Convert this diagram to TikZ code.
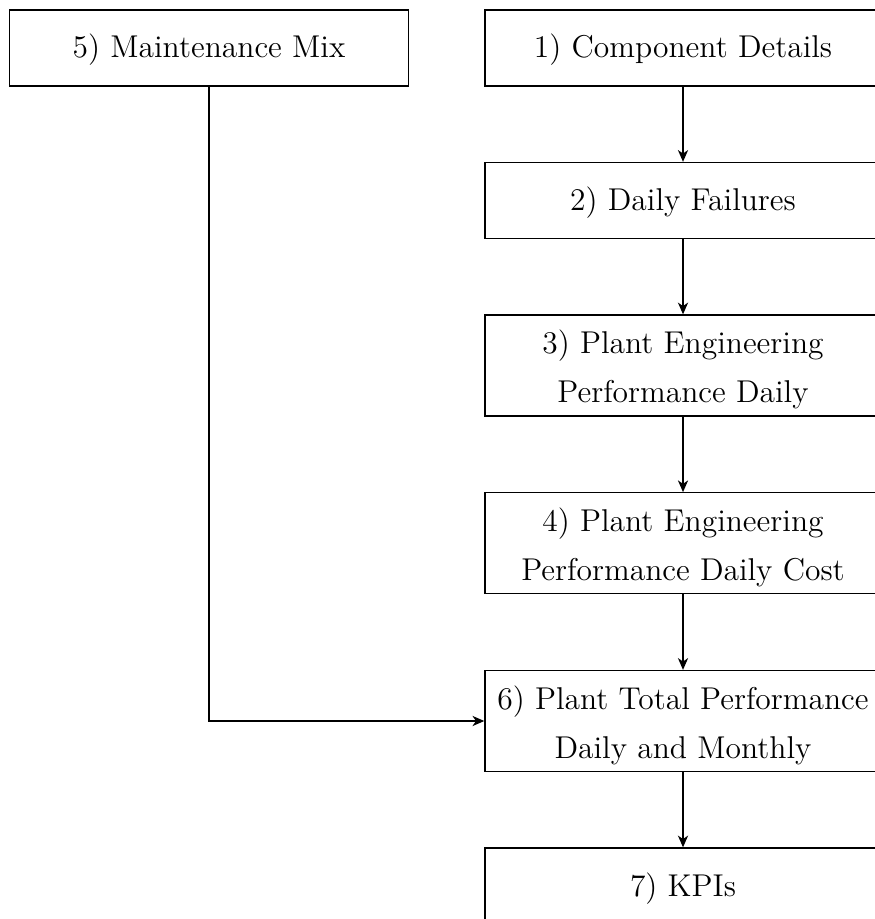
\documentclass[tikz,border=0pt]{standalone}
\usetikzlibrary{arrows.meta}
\begin{document}
\begin{tikzpicture}[x=0.37438pt,y=-0.37438pt,
  box/.style={draw,line width=0.5pt,minimum width=148.3pt,minimum height=28.45pt,
    align=center,inner sep=2pt,text height=10.45pt,font=\fontsize{11.8}{18.4}\selectfont},
  tall/.style={box,minimum height=37.8pt,text height=30.3pt},
  arr/.style={line width=0.5pt,-{Stealth[length=4.4pt,width=3.8pt,inset=1.3pt]}}]
\useasboundingbox (0,0) rectangle (874,919);
\node[box,minimum width=149.4pt] (m5) at (209,48) {5) Maintenance Mix};
\node[box] (c1) at (683,48) {1) Component Details};
\node[box] (c2) at (683,200.5) {2) Daily Failures};
\node[tall] (c3) at (683,365.5) {3) Plant Engineering\\Performance Daily};
\node[tall] (c4) at (683,543.3) {4) Plant Engineering\\Performance Daily Cost};
\node[tall] (c6) at (683,721) {6) Plant Total Performance\\Daily and Monthly};
\node[box] (c7) at (683,886) {7) KPIs};
\draw[arr] (c1) -- (c2);
\draw[arr] (c2) -- (c3);
\draw[arr] (c3) -- (c4);
\draw[arr] (c4) -- (c6);
\draw[arr] (c6) -- (c7);
\draw[arr] (m5) |- (c6);
\end{tikzpicture}
\end{document}
